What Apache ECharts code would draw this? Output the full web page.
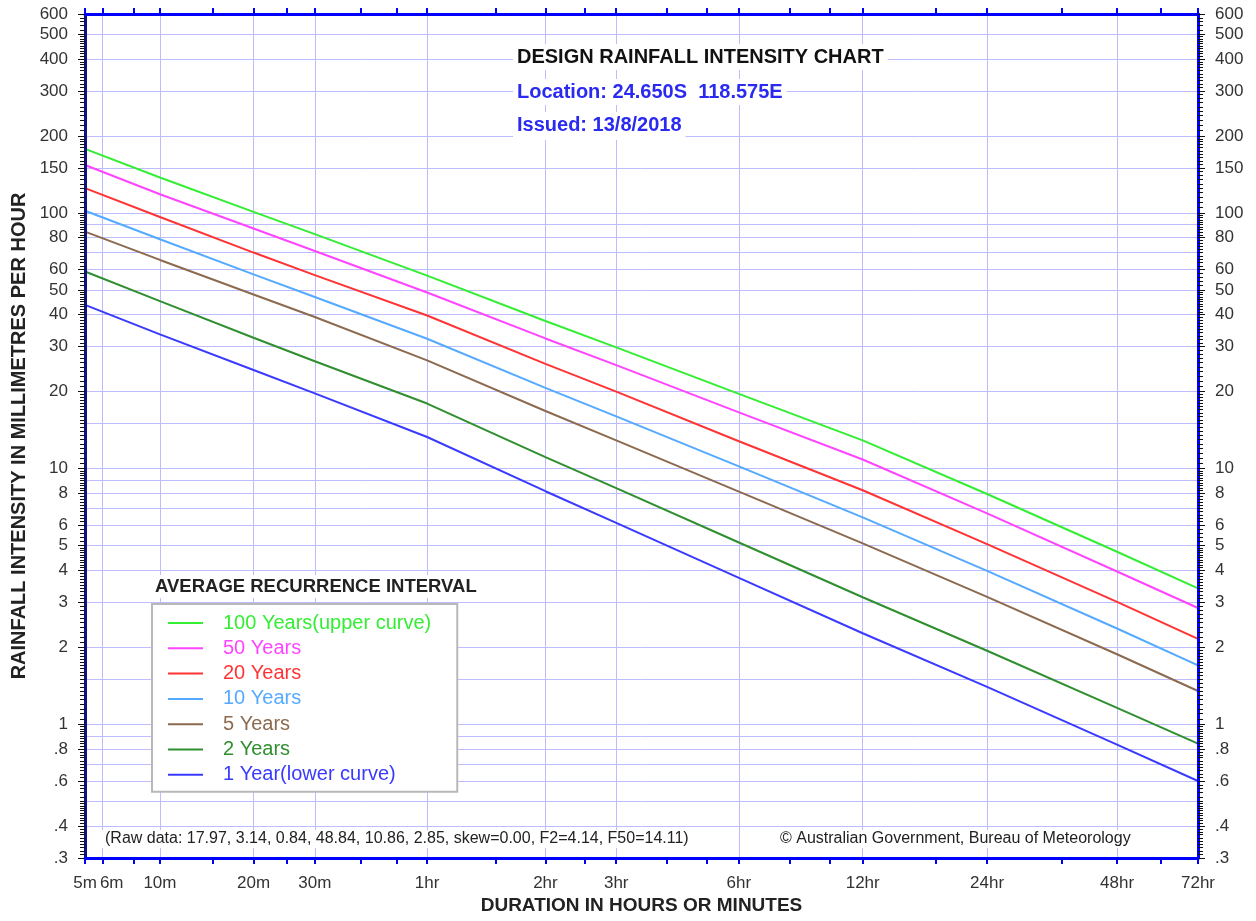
<!DOCTYPE html>
<html>
<head>
<meta charset="utf-8">
<title>Design Rainfall Intensity Chart</title>
<script src="https://cdn.jsdelivr.net/npm/echarts@6/dist/echarts.min.js"></script>
<style>
  html, body { margin: 0; padding: 0; background: #fff; }
  #chart { width: 1256px; height: 921px; }
</style>
</head>
<body>
<div id="chart"></div>
<script>
// Storm durations (minutes) at which the intensities are tabulated
const durations = [5, 10, 20, 30, 60, 120, 180, 360, 720, 1440, 2880, 4320];

// Rainfall intensity (mm/h) for each average recurrence interval
const ari100 = [178, 137.6, 101, 82.6, 56.9, 37.8, 29.8, 19.6, 12.9, 7.96, 4.73, 3.40];
const ari50  = [154, 118.4, 86.9, 71.0, 48.84, 32.3, 25.4, 16.6, 10.86, 6.68, 3.96, 2.85];
const ari20  = [125, 96.4, 70.0, 57.1, 39.7, 25.7, 20.0, 12.8, 8.23, 5.07, 3.01, 2.16];
const ari10  = [102, 78.9, 57.5, 46.9, 32.2, 20.7, 16.0, 10.2, 6.45, 3.98, 2.37, 1.70];
const ari5   = [84.5, 65.5, 48.0, 39.2, 26.5, 16.8, 12.9, 8.13, 5.10, 3.15, 1.88, 1.35];
const ari2   = [59.0, 45.2, 32.5, 26.3, 17.97, 11.1, 8.39, 5.14, 3.14, 1.94, 1.16, 0.84];
const ari1   = [43.7, 33.5, 24.3, 19.7, 13.3, 8.16, 6.14, 3.74, 2.27, 1.40, 0.833, 0.600];

const seriesNames = ['100 Years(upper curve)', '50 Years', '20 Years', '10 Years', '5 Years', '2 Years', '1 Year(lower curve)'];
const seriesValues = [ari100, ari50, ari20, ari10, ari5, ari2, ari1];
const seriesColors = ['#33ee33', '#ff44ff', '#ff3333', '#55aaff', '#8c6a4f', '#2f8f2f', '#3a3aff'];

// Duration axis: labels, ticks and grid lines (minutes)
const xLabelDurations = [5, 6, 10, 20, 30, 60, 120, 180, 360, 720, 1440, 2880, 4320];
const xLabelText = ['5m', '6m', '10m', '20m', '30m', '1hr', '2hr', '3hr', '6hr', '12hr', '24hr', '48hr', '72hr'];
const xTickDurations = [5, 6, 8, 10, 15, 20, 25, 30, 40, 50, 60, 90, 120, 150, 180, 240, 300, 360, 480, 600, 720, 1080, 1440, 2160, 2880, 3600, 4320];
const xGridDurations = [6, 10, 20, 30, 60, 120, 180, 360, 720, 1440, 2880];

// Intensity axis: labels and grid lines (mm/h)
const yLabelValues = [600, 500, 400, 300, 200, 150, 100, 80, 60, 50, 40, 30, 20, 10, 8, 6, 5, 4, 3, 2, 1, 0.8, 0.6, 0.4, 0.3];
const yGridValues = [0.4, 0.5, 0.6, 0.7, 0.8, 0.9, 1, 1.5, 2, 3, 4, 5, 6, 7, 8, 9, 10, 15, 20, 30, 40, 50, 60, 70, 80, 90, 100, 150, 200, 300, 400, 500];
const Y_MIN = 0.3, Y_MAX = 600;

const FONT = "'Liberation Sans', Arial, Helvetica, sans-serif";
const FRAME = '#0000ff';
const GRID = '#bcbcff';

// Duration scale: logarithmic, eased at the short end and opened out beyond one day
function durationAxis(t) {
  const day = Math.max(0, Math.log10(t / 1440));
  return Math.log10(t + 4.7) + 0.14 * day * day;
}
const X_MIN = durationAxis(5), X_MAX = durationAxis(4320);
const L_MIN = Math.log10(Y_MIN), L_MAX = Math.log10(Y_MAX);

// Small ticks along the intensity axes
function minorTickValues() {
  const steps = [[1, 2, 0.05], [2, 5, 0.1], [5, 10, 0.2]];
  const out = [];
  for (let e = -1; e <= 2; e++) {
    const base = Math.pow(10, e);
    for (const [from, to, step] of steps) {
      for (let m = from; m < to - 1e-9; m += step) {
        const v = +(m * base).toPrecision(6);
        if (v >= Y_MIN && v <= Y_MAX) out.push(Math.log10(v));
      }
    }
  }
  return out;
}

function nearestIndex(list, v) {
  let best = 0;
  for (let i = 1; i < list.length; i++) {
    if (Math.abs(list[i] - v) < Math.abs(list[best] - v)) best = i;
  }
  return best;
}
function xLabel(v) {
  return xLabelText[nearestIndex(xLabelDurations.map(durationAxis), v)];
}
function yLabel(v) {
  const val = yLabelValues[nearestIndex(yLabelValues.map(Math.log10), v)];
  return val < 1 ? String(val).replace(/^0/, '') : String(val);
}

const labelStyle = { fontFamily: FONT, fontSize: 17, color: '#333' };
const xLabelPos = xLabelDurations.map(durationAxis);

// Bottom axis that only carries some of the duration labels
function labelOnlyAxis(values, extra) {
  return {
    type: 'value', position: 'bottom', min: X_MIN, max: X_MAX, z: 3,
    axisLine: { show: false, onZero: false }, axisTick: { show: false },
    axisLabel: Object.assign({ customValues: values, formatter: xLabel, margin: 17, hideOverlap: false, showMinLabel: true, showMaxLabel: true }, labelStyle, extra || {}),
    splitLine: { show: false }
  };
}

const xAxes = [
  { // bottom frame edge with duration labels (data axis)
    type: 'value', position: 'bottom', min: X_MIN, max: X_MAX, z: 3,
    axisLine: { onZero: false, lineStyle: { color: FRAME, width: 3 } },
    axisTick: { customValues: xTickDurations.map(durationAxis), length: 6, lineStyle: { color: FRAME, width: 2 } },
    axisLabel: Object.assign({ customValues: xLabelPos.slice(2), formatter: xLabel, margin: 17, hideOverlap: false, showMinLabel: true, showMaxLabel: true }, labelStyle),
    splitLine: { show: false },
    name: 'DURATION IN HOURS OR MINUTES', nameLocation: 'middle', nameGap: 38, nameMoveOverlap: false,
    nameTextStyle: { fontFamily: FONT, fontSize: 19, fontWeight: 'bold', color: '#222' }
  },
  { // vertical grid lines
    type: 'value', position: 'bottom', min: X_MIN, max: X_MAX, z: 0,
    axisLine: { show: false, onZero: false },
    axisTick: { customValues: xGridDurations.map(durationAxis), inside: true, length: 844, lineStyle: { color: GRID, width: 1 } },
    axisLabel: { show: false }, splitLine: { show: false }
  },
  { // top frame edge
    type: 'value', position: 'top', min: X_MIN, max: X_MAX, z: 3,
    axisLine: { onZero: false, lineStyle: { color: FRAME, width: 3 } },
    axisTick: { customValues: xTickDurations.map(durationAxis), length: 6, lineStyle: { color: FRAME, width: 2 } },
    axisLabel: { show: false }, splitLine: { show: false }
  },
  // "5m" and "6m" sit side by side; the second is nudged right so they do not collide
  labelOnlyAxis(xLabelPos.slice(0, 1)),
  labelOnlyAxis(xLabelPos.slice(1, 2), { padding: [0, 0, 0, 18] })
];

const minorTicks = minorTickValues();
const yLabelPos = yLabelValues.map(Math.log10);
function sideAxes(side, lineColor, labelAlign) {
  return [
    { // frame edge with labels and long ticks
      type: 'value', position: side, min: L_MIN, max: L_MAX, z: 3,
      axisLine: { onZero: false, lineStyle: { color: lineColor, width: 3 } },
      axisTick: { customValues: yLabelPos, length: 7, lineStyle: { color: '#111', width: 1 } },
      axisLabel: Object.assign({ customValues: yLabelPos, formatter: yLabel, margin: 17, align: labelAlign, hideOverlap: false, showMinLabel: true, showMaxLabel: true }, labelStyle),
      splitLine: { show: false }
    },
    { // small ticks
      type: 'value', position: side, min: L_MIN, max: L_MAX, z: 3,
      axisLine: { show: false, onZero: false },
      axisTick: { customValues: minorTicks, length: 5, lineStyle: { color: '#111', width: 1 } },
      axisLabel: { show: false }, splitLine: { show: false }
    }
  ];
}

const yAxes = [
  { // logarithmic intensity scale used by the curves
    type: 'log', logBase: 10, min: Y_MIN, max: Y_MAX, show: false,
    axisLine: { onZero: false }, splitLine: { show: false }
  },
  ...sideAxes('left', '#101088', 'right'),
  ...sideAxes('right', FRAME, 'left'),
  { // horizontal grid lines
    type: 'value', position: 'left', min: L_MIN, max: L_MAX, z: 0,
    axisLine: { show: false, onZero: false },
    axisTick: { customValues: yGridValues.map(Math.log10), inside: true, length: 1113, lineStyle: { color: GRID, width: 1 } },
    axisLabel: { show: false }, splitLine: { show: false }
  }
];
yAxes[1].name = 'RAINFALL INTENSITY IN MILLIMETRES PER HOUR';
yAxes[1].nameLocation = 'middle';
yAxes[1].nameGap = 56;
yAxes[1].nameMoveOverlap = false;
yAxes[1].nameTextStyle = { fontFamily: FONT, fontSize: 20, fontWeight: 'bold', color: '#222' };

function textBox(text, left, top, size, color, bold, pad) {
  return {
    text, left, top, padding: pad, backgroundColor: '#fff',
    textStyle: { fontFamily: FONT, fontSize: size, fontWeight: bold ? 'bold' : 'normal', color }
  };
}

const option = {
  animation: false,
  backgroundColor: '#fff',
  grid: { left: 85, top: 14, width: 1113, height: 844, containLabel: false, outerBoundsMode: 'none' },
  title: [
    textBox('DESIGN RAINFALL INTENSITY CHART', 513, 44, 20, '#111', true, [3, 4, 3, 4]),
    textBox('Location: 24.650S  118.575E', 513, 79, 20, '#2a2af0', true, [3, 4, 3, 4]),
    textBox('Issued: 13/8/2018', 513, 112, 20, '#2a2af0', true, [3, 4, 5, 4]),
    textBox('AVERAGE RECURRENCE INTERVAL', 152, 575, 18.5, '#222', true, [2, 3, 2, 3]),
    textBox('(Raw data: 17.97, 3.14, 0.84, 48.84, 10.86, 2.85, skew=0.00, F2=4.14, F50=14.11)', 102, 830, 16, '#222', false, [1, 3, 1, 3]),
    textBox('\u00a9 Australian Government, Bureau of Meteorology', 777, 830, 16, '#222', false, [1, 3, 1, 3])
  ],
  legend: {
    orient: 'vertical', left: 152, top: 604,
    padding: [9, 26, 7, 16],
    itemWidth: 35, itemHeight: 2, itemGap: 5.3, icon: 'rect',
    backgroundColor: '#fff', borderColor: '#b8b8b8', borderWidth: 2,
    selectedMode: false,
    textStyle: { fontFamily: FONT, fontSize: 20, lineHeight: 20, padding: [0, 0, 0, 15] },
    data: seriesNames.map((name, i) => ({ name, textStyle: { color: seriesColors[i] } }))
  },
  xAxis: xAxes,
  yAxis: yAxes,
  series: seriesNames.map((name, i) => ({
    name, type: 'line', xAxisIndex: 0, yAxisIndex: 0,
    symbol: 'none', smooth: false, silent: true, z: 2,
    color: seriesColors[i],
    lineStyle: { color: seriesColors[i], width: 2 },
    data: durations.map((t, j) => [durationAxis(t), seriesValues[i][j]])
  }))
};

const chart = echarts.init(document.getElementById('chart'), null, { renderer: 'canvas' });
chart.setOption(option);
</script>
</body>
</html>
